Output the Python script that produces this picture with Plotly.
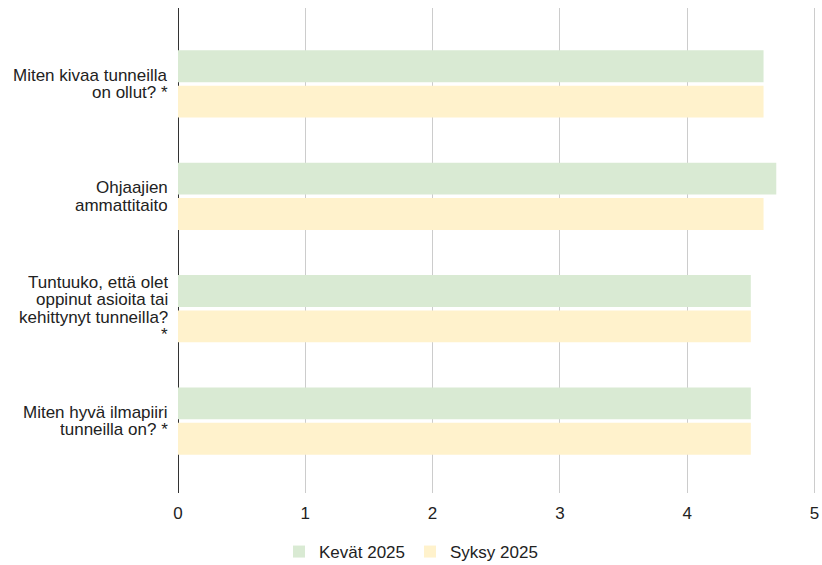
import plotly.graph_objects as go

label_lines = [
    ["Miten kivaa tunneilla", "on ollut? *"],
    ["Ohjaajien", "ammattitaito"],
    ["Tuntuuko, että olet", "oppinut asioita tai", "kehittynyt tunneilla?", "*"],
    ["Miten hyvä ilmapiiri", "tunneilla on? *"],
]
categories = [" ".join(lines) for lines in label_lines]
kevat_2025 = [4.6, 4.7, 4.5, 4.5]
syksy_2025 = [4.6, 4.6, 4.5, 4.5]
x_ticks = [0, 1, 2, 3, 4, 5]

FONT = "Liberation Sans, Arial, sans-serif"
TXT = "#222222"

fig = go.Figure()
fig.add_trace(go.Bar(y=categories, x=kevat_2025, orientation="h", name="Kevät 2025",
                     marker=dict(color="#d9ead3", line=dict(width=0))))
fig.add_trace(go.Bar(y=categories, x=syksy_2025, orientation="h", name="Syksy 2025",
                     marker=dict(color="#fff2cc", line=dict(width=0))))

# category labels, one text per line with tight line spacing
LINE_H = 17.5
for cat, lines in zip(categories, label_lines):
    n = len(lines)
    for j, line in enumerate(lines):
        fig.add_annotation(
            x=0, xref="paper", y=cat, yref="y",
            text=line, showarrow=False, xanchor="right", yanchor="middle",
            xshift=-9, yshift=-(j - (n - 1) / 2) * LINE_H,
            height=17, borderpad=0, valign="middle",
            font=dict(family=FONT, size=17, color=TXT),
        )

fig.update_layout(
    width=822, height=565,
    margin=dict(l=178, r=5, t=8, b=72, autoexpand=False),
    barmode="group", bargap=0.37, bargroupgap=0.1,
    plot_bgcolor="white", paper_bgcolor="white",
    font=dict(family=FONT, size=17, color=TXT),
    xaxis=dict(range=[0, 5.02], tickvals=x_ticks, showgrid=True, gridcolor="#cccccc",
               gridwidth=1, zeroline=True, zerolinecolor="#333333", zerolinewidth=1,
               tickfont=dict(size=17, color=TXT), ticks="", ticklabelstandoff=8),
    yaxis=dict(type="category", categoryorder="array", categoryarray=categories,
               range=[3.64, -0.676], showgrid=False, zeroline=False,
               showticklabels=False, ticks=""),
    legend=dict(orientation="h", xref="container", yref="container", x=0.5, y=0.023,
                xanchor="center", yanchor="middle", font=dict(size=17, color=TXT),
                itemwidth=30),
    showlegend=True,
)

fig.write_html("out.html", config={"displayModeBar": False},
               post_script="document.body.style.margin='0';document.body.style.overflow='hidden';")
